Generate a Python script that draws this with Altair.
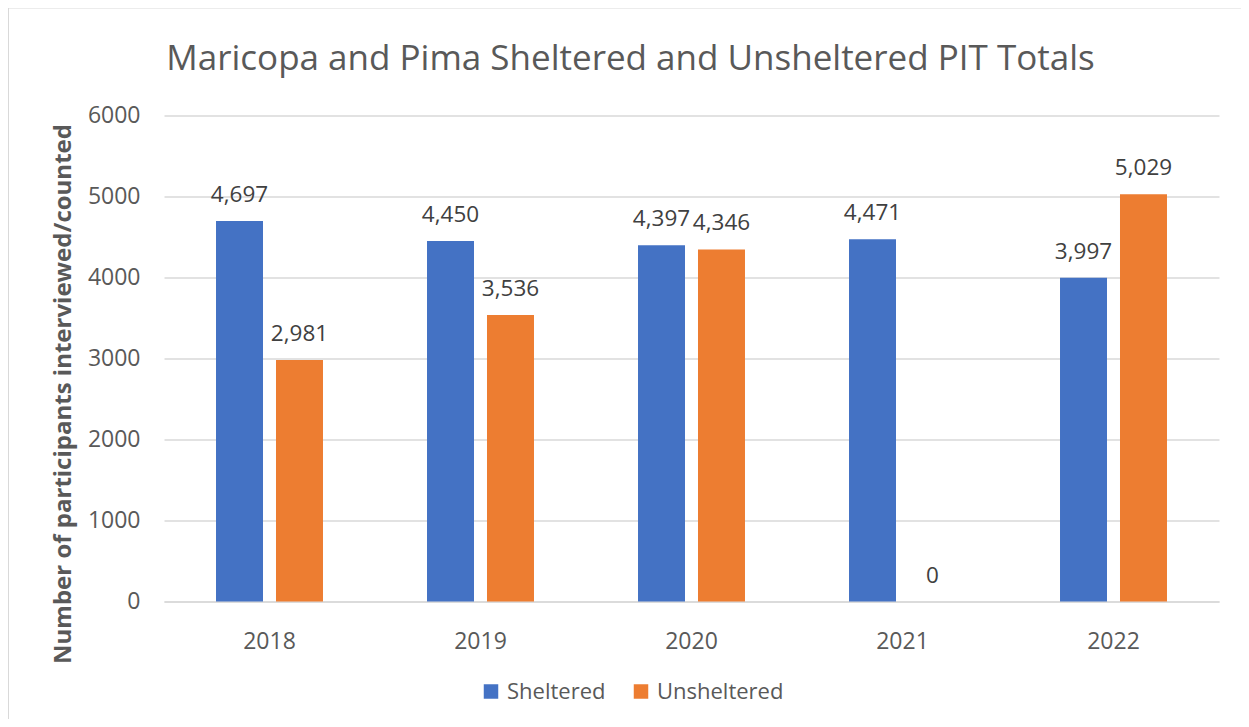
import altair as alt
import pandas as pd

years = ["2018", "2019", "2020", "2021", "2022"]
sheltered = [4697, 4450, 4397, 4471, 3997]
unsheltered = [2981, 3536, 4346, 0, 5029]
series_names = ["Sheltered", "Unsheltered"]
series_colors = ["#4472C4", "#ED7D31"]
y_ticks = [0, 1000, 2000, 3000, 4000, 5000, 6000]
chart_title = "Maricopa and Pima Sheltered and Unsheltered PIT Totals"
y_title = "Number of participants interviewed/counted"

rows = []
for i, yr in enumerate(years):
    rows.append({"year": yr, "series": "Sheltered", "value": sheltered[i]})
    rows.append({"year": yr, "series": "Unsheltered", "value": unsheltered[i]})
df = pd.DataFrame(rows)

FONT = "Open Sans"
GRAY = "#595959"
FS = 23

W, H = 1055, 486

x_enc = alt.X("year:N", sort=years,
              scale=alt.Scale(paddingInner=0.493, paddingOuter=0.2465),
              axis=alt.Axis(title=None, labelAngle=0, ticks=False, domain=True,
                            domainColor="#D9D9D9", domainWidth=1.5,
                            labelPadding=29, labelFontSize=FS, labelColor=GRAY,
                            labelFont=FONT, grid=False))
xoff = alt.XOffset("series:N", sort=series_names,
                   scale=alt.Scale(paddingInner=0.2167, paddingOuter=0))
y_enc = alt.Y("value:Q", scale=alt.Scale(domain=[0, 6000]),
              axis=alt.Axis(values=y_ticks, format="d", grid=True,
                            gridColor="#D9D9D9", gridWidth=1.3, domain=False,
                            ticks=False, labelPadding=24, labelFontSize=FS,
                            labelColor=GRAY, labelFont=FONT,
                            title=y_title,
                            titleFont=FONT, titleFontSize=24, titleFontWeight="bold",
                            titleColor=GRAY, titleX=-101, titleY=278,
                            titleAngle=-90, titleAlign="center", titleBaseline="middle"))

color_enc = alt.Color("series:N", sort=series_names,
                      scale=alt.Scale(domain=series_names, range=series_colors),
                      legend=alt.Legend(title=None, orient="none", legendX=316, legendY=565,
                                        direction="horizontal", symbolType="square",
                                        symbolSize=210, symbolStrokeWidth=0,
                                        labelFont=FONT, labelFontSize=22, labelColor=GRAY,
                                        labelOffset=5, columnPadding=24))

bars = alt.Chart(df).mark_bar().encode(x=x_enc, xOffset=xoff, y=y_enc, color=color_enc)

labels = alt.Chart(df).mark_text(baseline="alphabetic", dy=-19, font=FONT, fontSize=22.5,
                                 color="#404040").encode(
    x=alt.X("year:N", sort=years), xOffset=alt.XOffset("series:N", sort=series_names),
    y="value:Q", text=alt.Text("value:Q", format=","))

frame = alt.Chart(pd.DataFrame({"a": [0]})).mark_rect(
    filled=False, stroke="#D9D9D9", strokeWidth=2).encode(
    x=alt.value(-156), x2=alt.value(1200), y=alt.value(-108), y2=alt.value(800))

title_mark = alt.Chart(pd.DataFrame({"t": [chart_title]})).mark_text(
    font=FONT, fontSize=35, color=GRAY, align="center", baseline="alphabetic").encode(
    x=alt.value(466.5), y=alt.value(-45.5), text="t:N")

chart = alt.layer(frame, bars, labels, title_mark).properties(
    width=W, height=H,
    autosize=alt.AutoSizeParams(type="none"),
    padding={"left": 156, "top": 107.5, "right": 22, "bottom": 117.5},
    background="white",
).configure_view(stroke=None)

chart.save("out.html", embed_options={"renderer": "svg", "actions": False})
